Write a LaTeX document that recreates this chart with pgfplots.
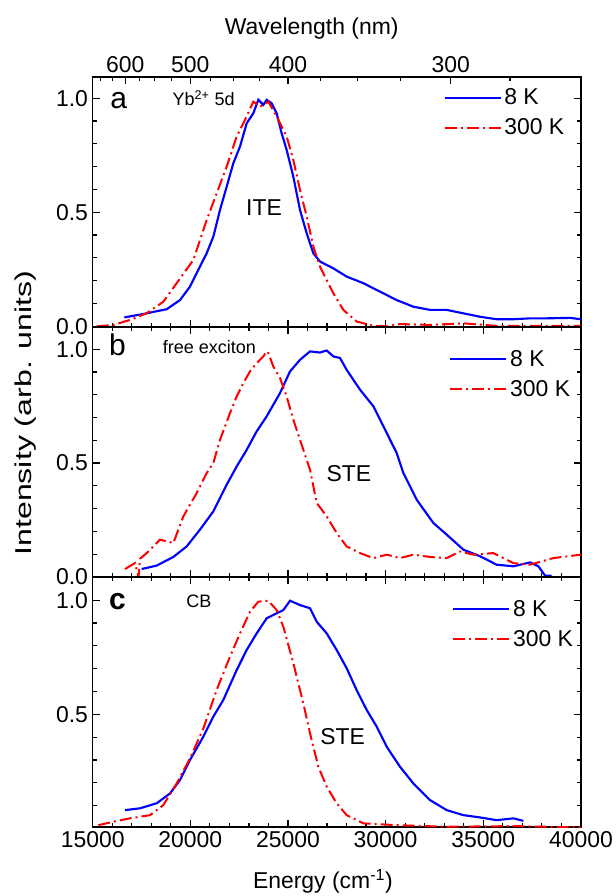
\documentclass[border=0pt]{standalone}
\usepackage{fontspec}
\setmainfont{Liberation Sans}
\usepackage{graphicx}
\usepackage{pgfplots}
\pgfplotsset{compat=1.18}

\definecolor{cblue}{RGB}{0,0,255}
\definecolor{cred}{RGB}{255,0,0}

\tikzset{
  big/.style={font=\fontsize{22.5}{26}\selectfont},
  small/.style={font=\fontsize{13.5}{16}\selectfont},
  mid/.style={font=\fontsize{17.2}{20}\selectfont},
}

\pgfplotsset{
  panel/.style={
    width=366.2pt, height=187.5pt, scale only axis,
    xmin=15000, xmax=40000,
    xtick={15000,20000,...,40000}, minor x tick num=4,
    ytick={0,0.5,1}, minor y tick num=4,
    tick align=inside,
    major tick length=5.5pt, minor tick length=3pt,
    axis line style={line width=1.1pt},
    every tick/.append style={line width=0.9pt, black},
    scaled x ticks=false,
    tick label style={font=\fontsize{17.2}{20}\selectfont},
    /pgf/number format/assume math mode=true,
    yticklabel style={/pgf/number format/fixed, /pgf/number format/fixed zerofill, /pgf/number format/precision=1},
    xticklabel style={/pgf/number format/1000 sep={}},
    legend style={draw=none, fill=none, font=\fontsize{17.2}{20}\selectfont, row sep=5pt},
    legend cell align=left,
    legend image code/.code={\draw[#1] (0pt,0pt) -- (42pt,0pt);},
  },
  s8/.style={cblue, line width=1.6pt},
  s300/.style={cred, line width=1.5pt, dash pattern=on 9pt off 3pt on 1.5pt off 3pt},
}

\begin{document}
\begin{tikzpicture}
\useasboundingbox (-69.5pt,57.75pt) rectangle (392.5pt,-614.25pt);

% panel a
\begin{axis}[panel, at={(0pt,-187.5pt)}, ymin=-0.003, ymax=1.093,
  xtick pos=left, xticklabels={},
  legend style={at={(axis description cs:0.98,0.975)}, anchor=north east}]
\addplot[s8] table {
16620 0.039
17764 0.057
18788 0.075
19471 0.115
19983 0.174
20495 0.262
20837 0.320
21178 0.393
21519 0.510
21861 0.612
22202 0.715
22544 0.788
22885 0.890
23226 0.934
23482 0.993
23738 0.971
23909 0.993
24165 0.978
24421 0.934
24677 0.846
24933 0.773
25275 0.656
25616 0.510
25958 0.408
26299 0.320
26640 0.284
27323 0.254
28006 0.218
28860 0.189
29713 0.152
30567 0.115
31420 0.086
32274 0.072
33127 0.072
33981 0.057
34834 0.042
35688 0.031
36541 0.031
37395 0.035
38248 0.035
39443 0.037
40000 0.031
};
\addplot[s300] table {
15204 0.000
16057 0.006
16911 0.028
17764 0.057
18618 0.108
19300 0.189
20154 0.291
20837 0.466
21349 0.583
21861 0.700
22373 0.832
22885 0.920
23226 0.985
23568 0.963
23994 0.985
24421 0.920
24933 0.832
25275 0.729
25616 0.598
25958 0.481
26299 0.350
26640 0.262
26982 0.203
27323 0.145
27835 0.072
28518 0.021
29371 0.002
30054 0.000
30737 0.010
32274 0.006
33981 0.013
35688 0.002
37395 0.002
40000 0.002
};
\legend{8 K, 300 K}
\node[big, anchor=base] at (axis cs:16331,0.956) {a};
\node[small, anchor=base west] at (axis cs:18855,0.966) {Yb\textsuperscript{2+} 5d};
\node[mid] at (axis cs:23771,0.519) {ITE};
\end{axis}

% wavelength axis on top of panel a
\begin{axis}[panel, at={(0pt,-187.5pt)}, ymin=0, ymax=1, hide y axis,
  xtick pos=right, xticklabel pos=right,
  xtick={16666.67,20000,25000,33333.33}, xticklabels={600,500,400,300},
  minor x tick num=0,
  minor xtick={15384.6,16000,17391.3,18181.8,19047.6,21052.6,22222.2,23529.4,26666.7,28571.4,30769.2,36363.6},
  xlabel={Wavelength (nm)},
  xlabel style={mid, at={(ticklabel cs:0.4485)}, yshift=6pt}]
\end{axis}

% panel b
\begin{axis}[panel, at={(0pt,-375pt)}, ymin=0, ymax=1.097,
  xtick pos=both, xticklabels={},
  ylabel={\scalebox{1.4}[1]{Intensity (arb. units)}},
  ylabel style={mid, at={(axis description cs:-0.1366,0.656)}, anchor=center},
  legend style={at={(axis description cs:0.992,0.93)}, anchor=north east}]
\addplot[s8] table {
17508 0.035
18276 0.050
19130 0.088
19812 0.134
20495 0.208
21178 0.288
21861 0.405
22373 0.485
22885 0.558
23397 0.639
23909 0.705
24592 0.807
25104 0.902
25616 0.953
26128 0.990
26640 0.985
26982 0.994
27323 0.968
27665 0.961
28006 0.909
28689 0.822
29372 0.749
30054 0.632
30567 0.544
30908 0.456
31591 0.339
32444 0.237
33127 0.186
33981 0.120
34834 0.091
35688 0.054
36541 0.047
37395 0.064
37821 0.047
38163 0.006
38504 0.006
};
\addplot[s300] table {
16654 0.035
17167 0.061
17350 0.000
17420 0.080
17764 0.105
18447 0.164
19130 0.149
19642 0.266
20325 0.368
20837 0.456
21178 0.500
21519 0.602
22032 0.719
22373 0.792
22714 0.851
23056 0.902
23397 0.939
23738 0.968
23909 0.990
23994 0.982
24250 0.924
24592 0.873
24933 0.792
25275 0.690
25616 0.602
26128 0.471
26470 0.325
26982 0.266
27494 0.193
28006 0.134
28689 0.105
29372 0.083
30054 0.098
30737 0.083
31420 0.098
32274 0.088
33127 0.083
33810 0.112
34493 0.098
35517 0.105
36541 0.061
37395 0.054
38589 0.083
40000 0.098
};
\legend{8 K, 300 K}
\node[big, anchor=base] at (axis cs:16270,0.971) {b};
\node[small, anchor=base west] at (axis cs:18359,0.982) {free exciton};
\node[mid] at (axis cs:28123,0.453) {STE};
\end{axis}

% panel c
\begin{axis}[panel, at={(0pt,-562.5pt)}, ymin=0.006, ymax=1.102,
  xtick pos=both,
  xlabel={Energy (cm\textsuperscript{-1})},
  xlabel style={mid, at={(ticklabel cs:0.4716)}, yshift=-9pt},
  legend style={at={(axis description cs:0.998,0.93)}, anchor=north east}]
\addplot[s8] table {
16654 0.080
17423 0.088
18276 0.110
18959 0.153
19471 0.212
19983 0.300
20666 0.402
21178 0.490
21690 0.563
22373 0.694
22885 0.782
23397 0.855
23909 0.921
24421 0.943
24763 0.957
25104 0.998
25616 0.979
26128 0.965
26470 0.906
26982 0.855
27494 0.782
28006 0.702
28518 0.606
29031 0.519
29543 0.446
30054 0.358
30737 0.270
31420 0.197
32274 0.124
33127 0.080
33981 0.058
34834 0.048
35688 0.036
36541 0.044
37053 0.033
};
\addplot[s300] table {
15289 0.014
16057 0.029
16911 0.044
17935 0.058
18618 0.102
19300 0.197
19983 0.307
20666 0.438
21349 0.607
22032 0.753
22544 0.855
23056 0.950
23482 0.994
23994 0.998
24421 0.957
24763 0.884
25275 0.724
25787 0.548
26128 0.417
26555 0.270
26982 0.183
27494 0.110
28006 0.058
28860 0.022
30567 0.014
33127 0.007
36541 0.010
40000 0.004
};
\legend{8 K, 300 K}
\node[anchor=base, font=\bfseries\fontsize{22.5}{26}\selectfont] at (axis cs:16270,0.960) {c};
\node[small, anchor=base west] at (axis cs:19557,0.968) {CB};
\node[mid] at (axis cs:27800,0.402) {STE};
\end{axis}
\end{tikzpicture}
\end{document}
